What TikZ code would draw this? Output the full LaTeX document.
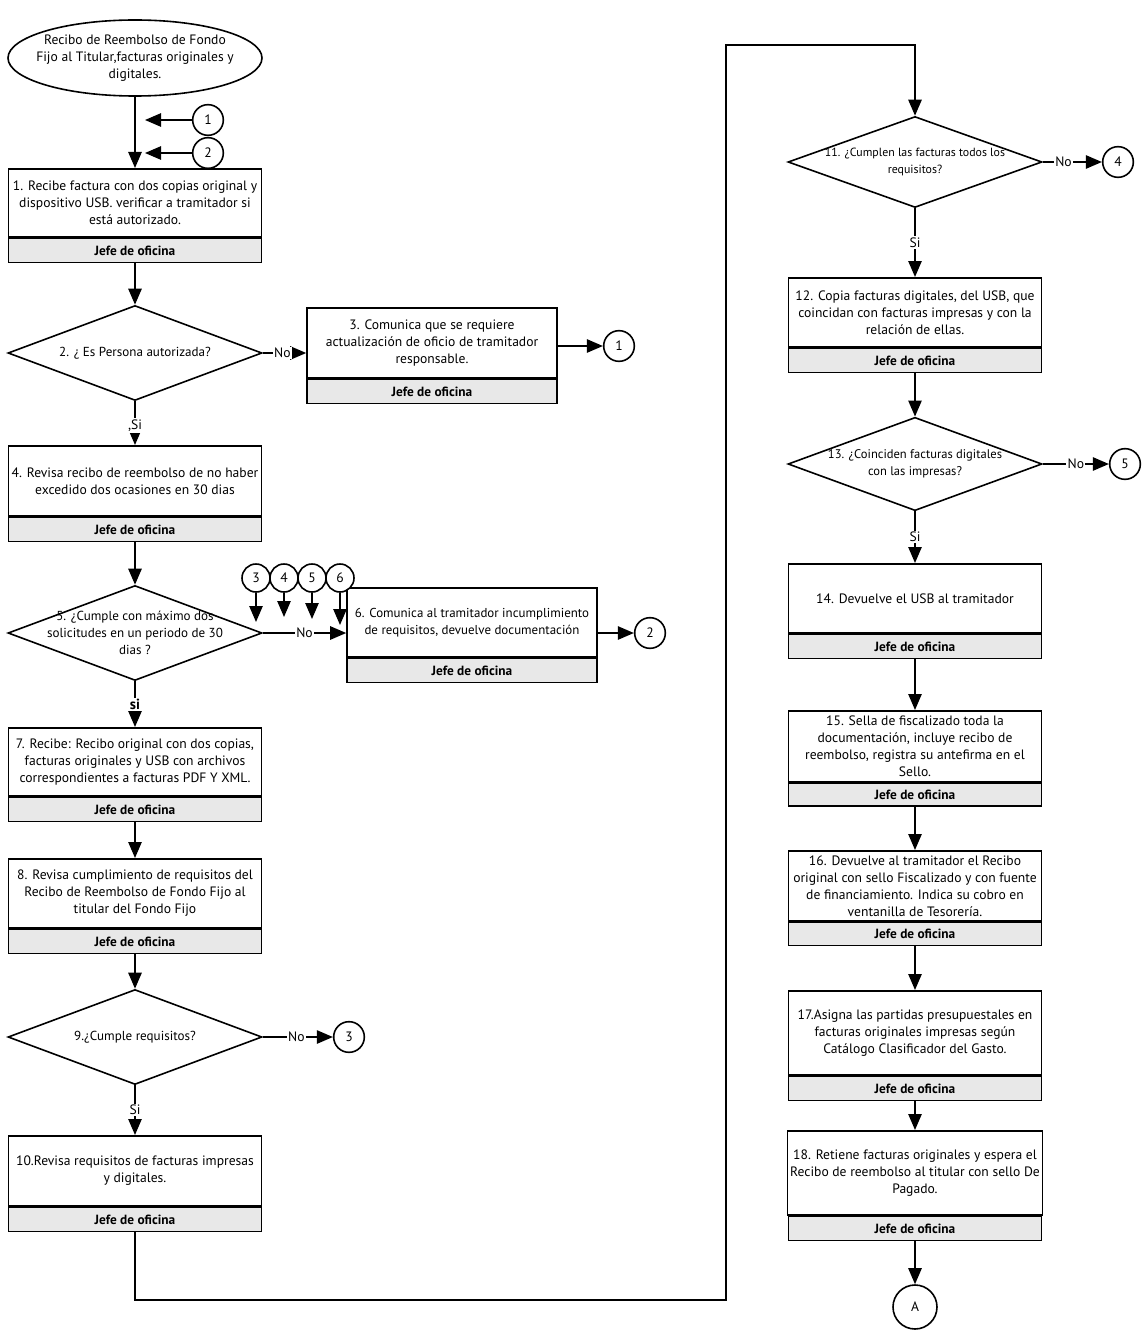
\documentclass[tikz,border=0pt]{standalone}
\usepackage{fontspec}
\setmainfont{PT Sans}
\usetikzlibrary{arrows.meta,shapes.geometric}
\begin{document}
\begin{tikzpicture}[x=0.75pt,y=-0.75pt,
  every node/.style={font=\fontsize{10.2}{12.75}\selectfont},
  ln/.style={line width=1.2pt},
  arr/.style={ln,-{Triangle[length=12pt,width=10pt]}},
  proc/.style={draw,ln,align=center,inner sep=2pt,fill=white,minimum width=189.75pt,anchor=north},
  procw/.style={proc,minimum width=187.5pt},
  band/.style={draw,ln,fill=gray!18,minimum height=18pt,inner sep=0pt,minimum width=189.75pt,anchor=north,font=\fontsize{10}{11}\selectfont\bfseries},
  bandw/.style={band,minimum width=187.5pt},
  dec/.style={draw,ln,diamond,minimum width=190.5pt,minimum height=71.25pt,inner sep=0pt,fill=white},
  dtxt/.style={align=center,inner sep=0pt,font=\fontsize{9.8}{12.75}\selectfont},
  conn/.style={draw,ln,circle,minimum size=23pt,inner sep=0pt,fill=white},
  connsm/.style={conn,minimum size=21pt},
  txt/.style={align=center,inner sep=0pt},
  lbl/.style={fill=white,inner sep=1pt}]
\fill[white] (0,0) rectangle (1142,1330);
\useasboundingbox (0,0) rectangle (1142,1330);

% ---------- left column ----------
\node[draw,ln,ellipse,minimum width=190.5pt,minimum height=57pt,inner sep=0pt] (start) at (135,58) {};
\node[txt] (startt) at (start.center) {Recibo de Reembolso de Fondo\\Fijo al Titular,facturas originales y\\digitales.};

\node[proc,minimum height=51pt] (b1) at (135,168) {1. Recibe factura con dos copias original y\\dispositivo USB. verificar a tramitador si\\está autorizado.};
\node[band] (b1j) at (b1.south) {Jefe de oficina};

\node[conn] (c1a) at (208,120) {1};
\node[conn] (c2a) at (208,153) {2};
\coordinate (e1) at (145,120);
\coordinate (e2) at (145,153);

\node[dec] (d2) at (135,353) {};
\node[dtxt] (d2t) at (d2.center) {2. ¿ Es Persona autorizada?};

\node[procw,minimum height=52.5pt] (b3) at (432,307) {3. Comunica que se requiere\\actualización de oficio de tramitador\\responsable.};
\node[bandw] (b3j) at (b3.south) {Jefe de oficina};
\node[conn] (c1b) at (619,346) {1};

\node[proc,minimum height=52.5pt] (b4) at (135,445) {4. Revisa recibo de reembolso de no haber\\excedido dos ocasiones en 30 dias};
\node[band] (b4j) at (b4.south) {Jefe de oficina};

\node[dec] (d5) at (135,633) {};
\node[dtxt] (d5t) at (d5.center) {5. ¿Cumple con máximo dos\\solicitudes en un periodo de 30\\dias ?};

\node[procw,minimum height=51.75pt,font=\fontsize{9.7}{12.75}\selectfont] (b6) at (472,587) {6. Comunica al tramitador incumplimiento\\de requisitos, devuelve documentación};
\node[bandw] (b6j) at (b6.south) {Jefe de oficina};
\node[conn] (c2b) at (650,633) {2};

\node[connsm] (c3a) at (256,578) {3};
\node[connsm] (c4a) at (284,578) {4};
\node[connsm] (c5a) at (312,578) {5};
\node[connsm] (c6a) at (340,578) {6};
\coordinate (t3) at (256,622);
\coordinate (t4) at (284,617);
\coordinate (t5) at (312,619);
\coordinate (t6) at (340,625);

\node[proc,minimum height=51pt] (b7) at (135,727) {7. Recibe: Recibo original con dos copias,\\facturas originales y USB con archivos\\correspondientes a facturas PDF Y XML.};
\node[band] (b7j) at (b7.south) {Jefe de oficina};

\node[proc,minimum height=51.75pt] (b8) at (135,858) {8. Revisa cumplimiento de requisitos del\\Recibo de Reembolso de Fondo Fijo al\\titular del Fondo Fijo};
\node[band] (b8j) at (b8.south) {Jefe de oficina};

\node[dec] (d9) at (135,1037) {};
\node[dtxt] (d9t) at (d9.center) {9.¿Cumple requisitos?};
\node[conn] (c3b) at (349,1037) {3};

\node[proc,minimum height=52.5pt] (b10) at (135,1135) {10.Revisa requisitos de facturas impresas\\y digitales.};
\node[band] (b10j) at (b10.south) {Jefe de oficina};

% ---------- right column ----------
\node[dec,minimum height=68.25pt] (d11) at (915,162) {};
\node[dtxt,font=\fontsize{8.9}{12.75}\selectfont] (d11t) at (d11.center) {11. ¿Cumplen las facturas todos los\\requisitos?};
\node[conn] (c4b) at (1118,162) {4};

\node[proc,minimum height=51.75pt] (b12) at (915,277) {12. Copia facturas digitales, del USB, que\\coincidan con facturas impresas y con la\\relación de ellas.};
\node[band] (b12j) at (b12.south) {Jefe de oficina};

\node[dec,minimum height=70pt] (d13) at (915,464) {};
\node[dtxt,font=\fontsize{9.4}{12.75}\selectfont] (d13t) at (d13.center) {13. ¿Coinciden facturas digitales\\con las impresas?};
\node[conn] (c5b) at (1125,464) {5};

\node[proc,minimum height=51.75pt] (b14) at (915,563) {14. Devuelve el USB al tramitador};
\node[band] (b14j) at (b14.south) {Jefe de oficina};

\node[proc,minimum height=53pt] (b15) at (915,710) {15. Sella de fiscalizado toda la\\documentación, incluye recibo de\\reembolso, registra su antefirma en el\\Sello.};
\node[band,minimum height=17pt] (b15j) at (b15.south) {Jefe de oficina};

\node[proc,minimum height=52.5pt] (b16) at (915,850) {16. Devuelve al tramitador el Recibo\\original con sello Fiscalizado y con fuente\\de financiamiento. Indica su cobro en\\ventanilla de Tesorería.};
\node[band,minimum height=17.25pt] (b16j) at (b16.south) {Jefe de oficina};

\node[proc,minimum height=63pt] (b17) at (915,990) {17.Asigna las partidas presupuestales en\\facturas originales impresas según\\Catálogo Clasificador del Gasto.};
\node[band] (b17j) at (b17.south) {Jefe de oficina};

\node[proc,minimum height=63pt] (b18) at (915,1130) {18. Retiene facturas originales y espera el\\Recibo de reembolso al titular con sello De\\Pagado.};
\node[band] (b18j) at (b18.south) {Jefe de oficina};

\node[conn,minimum size=33pt] (cA) at (915,1307) {A};

\coordinate (p1) at (135,1300);
\coordinate (p2) at (726,1300);
\coordinate (p3) at (726,45);
\coordinate (p4) at (915,45);

% ---------- connectors ----------
\draw[arr] (start.south) -- (b1.north);
\draw[arr] (c1a.west) -- (e1);
\draw[arr] (c2a.west) -- (e2);
\draw[arr] (b1j.south) -- (d2.north);
\draw[arr] (d2.east) -- node[lbl,pos=0.45] (n2) {No} (d2.east -| b3.west);
\draw[arr] (b3.east |- c1b) -- (c1b.west);
\draw[arr] (d2.south) -- node[lbl,pos=0.55] (s2) {,Si} (b4.north);
\draw[arr] (b4j.south) -- (d5.north);
\draw[arr] (d5.east) -- node[lbl,pos=0.5] (n5) {No} (d5.east -| b6.west);
\draw[arr] (b6.east |- c2b) -- (c2b.west);
\draw[arr] (c3a.south) -- (t3);
\draw[arr] (c4a.south) -- (t4);
\draw[arr] (c5a.south) -- (t5);
\draw[arr] (c6a.south) -- (t6);
\draw[arr] (d5.south) -- node[lbl,pos=0.5,font=\fontsize{11}{12}\selectfont\bfseries] (s5) {si} (b7.north);
\draw[arr] (b7j.south) -- (b8.north);
\draw[arr] (b8j.south) -- (d9.north);
\draw[arr] (d9.east) -- node[lbl,pos=0.48] (n9) {No} (c3b.west);
\draw[arr] (d9.south) -- node[lbl,pos=0.5] (s9) {Si} (b10.north);
\draw[arr] (b10j.south) -- (p1) -- (p2) -- (p3) -- (p4) -- (d11.north);
\draw[arr] (d11.east) -- node[lbl,pos=0.35] (n11) {No} (c4b.west);
\draw[arr] (d11.south) -- node[lbl,pos=0.5] (s11) {Si} (b12.north);
\draw[arr] (b12j.south) -- (d13.north);
\draw[arr] (d13.east) -- node[lbl,pos=0.5] (n13) {No} (c5b.west);
\draw[arr] (d13.south) -- node[lbl,pos=0.5] (s13) {Si} (b14.north);
\draw[arr] (b14j.south) -- (b15.north);
\draw[arr] (b15j.south) -- (b16.north);
\draw[arr] (b16j.south) -- (b17.north);
\draw[arr] (b17j.south) -- (b18.north);
\draw[arr] (b18j.south) -- (cA.north);
\end{tikzpicture}
\end{document}
